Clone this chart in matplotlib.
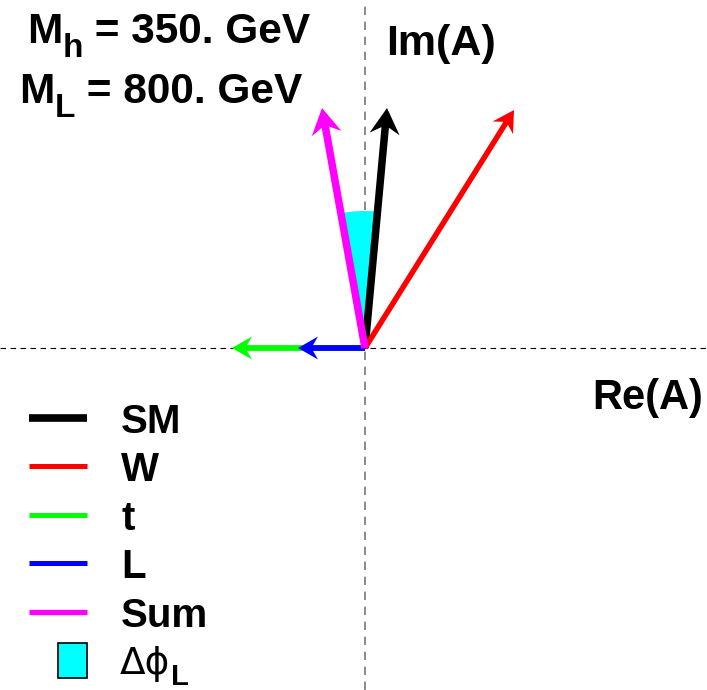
import numpy as np
import matplotlib.pyplot as plt
from matplotlib.patches import Wedge, Rectangle

plt.rcParams['font.family'] = ['Liberation Sans', 'DejaVu Sans']

# amplitudes (Re, Im), arbitrary units
names = ['SM', 'W', 't', 'L', 'Sum']
colors = ['black', 'red', '#00ff00', 'blue', 'magenta']
re_vals = [0.22, 1.49, -1.33, -0.67, -0.43]
im_vals = [2.40, 2.38, 0.0, 0.0, 2.40]

mass_h = 350.
mass_L = 800.

# arrow styles: shaft width, head width, head length (data units)
shaft = [0.075, 0.055, 0.058, 0.058, 0.075]
head_w = [0.30, 0.24, 0.23, 0.23, 0.30]
head_l = [0.26, 0.21, 0.20, 0.20, 0.26]
leg_lw = [5.5, 3.6, 3.6, 3.6, 3.8]

fig = plt.figure(figsize=(7.07, 6.90), dpi=100)
ax = fig.add_axes([0, 0, 1, 1])
ax.set_xlim(-3.65, 3.42)
ax.set_ylim(-3.42, 3.48)
ax.axis('off')

# dashed axes
ax.axhline(0, color='black', lw=0.8, ls=(0, (5, 4)), zorder=1)
ax.axvline(0, color='#777777', lw=1.2, ls=(0, (5, 4)), zorder=1)

# phase difference wedge between SM and Sum
ang_sm = np.degrees(np.arctan2(im_vals[0], re_vals[0]))
ang_sum = np.degrees(np.arctan2(im_vals[4], re_vals[4]))
ax.add_patch(Wedge((0, 0), 1.37, ang_sm, ang_sum, color='cyan', lw=0, zorder=2))

# arrows
for i in [2, 3, 0, 1, 4]:
    ax.arrow(0, 0, re_vals[i], im_vals[i], width=shaft[i], head_width=head_w[i],
             head_length=head_l[i], overhang=0.25, length_includes_head=True,
             color=colors[i], lw=0, zorder=3)

W, H = 707, 690
renderer = fig.canvas.get_renderer()

def ft(x, y, s, **kw):
    return fig.text(x / W, 1 - y / H, s, **kw)

def mass_label(x, y, sub, rest):
    t = ft(x, y, 'M', fontsize=30.5, fontweight='bold', va='baseline')
    x1 = t.get_window_extent(renderer).x1
    t = ft(x1, y + 14, sub, fontsize=24, fontweight='bold', va='baseline')
    x2 = t.get_window_extent(renderer).x1
    ft(x2, y, rest, fontsize=30.5, fontweight='bold', va='baseline')

mass_label(27, 43, 'h', ' = %.0f. GeV' % mass_h)
mass_label(19, 103, 'L', ' = %.0f. GeV' % mass_L)

ft(386, 55, 'Im(A)', fontsize=31, fontweight='bold', va='baseline')
ft(592, 409, 'Re(A)', fontsize=30, fontweight='bold', va='baseline')

# legend
leg_y = [418, 466, 515, 563, 612]
for k in range(5):
    y = 1 - leg_y[k] / H
    fig.add_artist(plt.Line2D([29 / W, 87 / W], [y, y], color=colors[k], lw=leg_lw[k],
                              solid_capstyle='butt'))
    ft(121, leg_y[k] + 15, names[k], fontsize=29, fontweight='bold', va='baseline')

fig.add_artist(Rectangle((58 / W, 1 - 678 / H), 29 / W, 35 / H, facecolor='cyan',
                         edgecolor='black', lw=1.2, transform=fig.transFigure))
t = ft(120, 674, '\u0394\u03d5', fontsize=27, family='DejaVu Sans', va='baseline')
x1 = t.get_window_extent(renderer).x1
ft(x1 + 1, 685, 'L', fontsize=21, fontweight='bold', va='baseline')

fig.savefig('out.png', dpi=100)
